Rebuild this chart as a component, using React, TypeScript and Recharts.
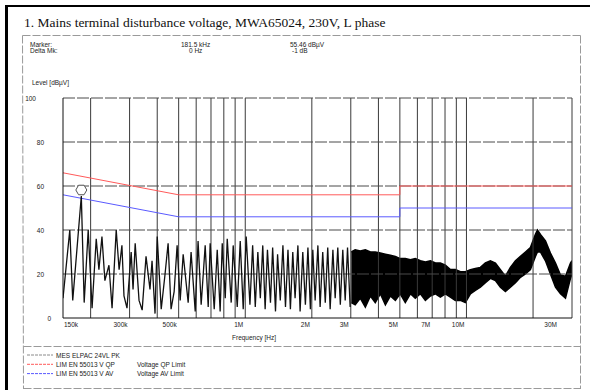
import React from "react";
import {
  ComposedChart,
  Line,
  Area,
  XAxis,
  YAxis,
  ReferenceLine,
  ReferenceDot,
} from "recharts";

// axis ticks / grid
const xTicks = [0.15, 0.3, 0.5, 1, 2, 3, 5, 7, 10, 30];
const xTickLabels = ["150k", "300k", "500k", "1M", "2M", "3M", "5M", "7M", "10M", "30M"];
const yTicks = [0, 20, 40, 60, 80, 100];
const gridFreqs = [0.2, 0.3, 0.4, 0.5, 0.6, 0.7, 0.8, 0.9, 1, 2, 3, 4, 5, 6, 7, 8, 9, 10, 20, 30];
const gridLevels = [20, 40, 60, 80, 100];

// limits [MHz, dBuV]
const qpLimit: [number, number][] = [[0.15, 66], [0.5, 56], [5, 56], [5, 60], [30, 60]];
const avLimit: [number, number][] = [[0.15, 56], [0.5, 46], [5, 46], [5, 50], [30, 50]];

// measured PK trace, 150k..3M  [MHz, dBuV]
const lowTrace: [number, number][] = [
  [0.15, 9], [0.161, 40], [0.166, 8], [0.1815, 55.46], [0.187, 7], [0.195, 40],
  [0.203, 4.5], [0.212, 36], [0.218, 22], [0.225, 37], [0.232, 17], [0.242, 24],
  [0.25, 4.5], [0.261, 40], [0.269, 22], [0.277, 33], [0.283, 10], [0.292, 4.5],
  [0.305, 30], [0.311, 13], [0.318, 34], [0.331, 8], [0.342, 3.6], [0.356, 28],
  [0.371, 13], [0.379, 26], [0.391, 2], [0.4, 37], [0.417, 4], [0.434, 20],
  [0.448, 34], [0.462, 4], [0.477, 12], [0.492, 33], [0.508, 8], [0.524, 29],
  [0.552, 7], [0.569, 30], [0.594, 3], [0.612, 35], [0.632, 6], [0.659, 33],
  [0.68, 5], [0.694, 34], [0.724, 4], [0.747, 31], [0.77, 3], [0.787, 34],
  [0.812, 9], [0.829, 36], [0.864, 7], [0.882, 33], [0.92, 5], [0.949, 35],
  [0.979, 4], [1.01, 37],
];
const midTrace: [number, number][] = [
  [1.05, 6], [1.08, 33], [1.11, 5], [1.14, 30], [1.17, 9], [1.2, 33], [1.23, 4],
  [1.26, 31], [1.3, 7], [1.33, 32], [1.37, 3], [1.4, 29], [1.44, 8], [1.48, 33],
  [1.52, 5], [1.56, 31], [1.6, 4], [1.64, 30], [1.68, 9], [1.73, 33], [1.77, 3],
  [1.82, 30], [1.87, 6], [1.92, 32], [1.97, 4], [2.02, 31], [2.07, 8], [2.13, 33],
  [2.18, 5], [2.24, 30], [2.3, 7], [2.36, 32], [2.42, 4], [2.49, 31], [2.55, 9],
  [2.62, 32], [2.69, 6], [2.76, 31], [2.83, 8], [2.9, 32], [2.98, 5],
];
// dense part 3M..30M as min/max envelope [MHz, lo, hi]
const bandTrace: [number, number, number][] = [
  [3.015, 7, 30], [3.14, 6, 31], [3.31, 9, 30.5], [3.49, 5, 31], [3.68, 10, 30],
  [3.87, 7, 30], [4.08, 11, 29.5], [4.3, 6, 29], [4.53, 10, 28.5], [4.77, 8, 28],
  [5.02, 11, 27], [5.29, 7, 27], [5.58, 11, 26.5], [5.87, 9, 27], [6.19, 11, 26],
  [6.52, 8, 25.5], [6.87, 10, 26], [7.24, 11, 25], [7.62, 9.5, 25], [8.03, 11, 24],
  [8.46, 9.5, 22], [8.91, 8, 22], [9.39, 8, 21], [9.89, 7, 21], [10.42, 11, 22],
  [10.97, 12.5, 22.5], [11.56, 14, 23], [12.18, 16, 25], [12.83, 18, 26],
  [13.52, 17, 25], [14.24, 14, 22], [15.0, 12, 19], [15.8, 14, 23], [16.65, 16, 26],
  [17.54, 18.5, 28], [18.48, 20, 30], [19.46, 22, 32], [20.5, 28, 38],
  [20.94, 30, 40], [21.6, 30, 38], [22.76, 26, 35], [23.97, 20, 29.5],
  [25.26, 14, 25], [26.61, 11, 19.5], [28.03, 9, 19], [29.53, 18, 25], [30, 20, 26],
];

const marker = { freq: 0.1815, level: 55.46 };

const legendRows = [
  { name: "MES ELPAC 24VL PK", note: "", color: "#8a8a8a" },
  { name: "LIM EN 55013 V QP", note: "Voltage QP Limit", color: "#ff5a5a" },
  { name: "LIM EN 55013 V AV", note: "Voltage AV Limit", color: "#5a5aff" },
];

const small: React.CSSProperties = {
  position: "absolute",
  fontFamily: "'Liberation Sans', Arial, sans-serif",
  fontSize: 6.5,
  lineHeight: "7px",
  color: "#222",
  whiteSpace: "nowrap",
};

function XTick(props: any) {
  const { x, y, payload } = props;
  const i = xTicks.indexOf(payload.value);
  let anchor = "end";
  let dx = -2;
  if (payload.value === 0.15) {
    anchor = "start";
    dx = 1;
  }
  if (payload.value === 30) dx = -15;
  return (
    <text x={x + dx} y={y + 1} textAnchor={anchor} fontSize={6.5}
      fontFamily="'Liberation Sans', Arial, sans-serif" fill="#222">
      {xTickLabels[i]}
    </text>
  );
}

function YTick(props: any) {
  const { x, y, payload } = props;
  let dx = -11;
  if (payload.value === 100) dx = -19;
  if (payload.value === 0) dx = -4;
  return (
    <text x={x + dx} y={y + 2.5} textAnchor="end" fontSize={6.5}
      fontFamily="'Liberation Sans', Arial, sans-serif" fill="#222">
      {payload.value}
    </text>
  );
}

function MarkerShape(props: any) {
  const { cx, cy } = props;
  const r = 5.5;
  const c = cy - 6;
  const pts = [0, 1, 2, 3, 4, 5]
    .map((k) => {
      const a = (Math.PI / 3) * k;
      return `${cx + r * Math.cos(a)},${c + r * Math.sin(a)}`;
    })
    .join(" ");
  return <polygon points={pts} fill="#fff" stroke="#555" strokeWidth={1} />;
}

export default function App() {
  const traceData = [...lowTrace, ...midTrace].map(([f, v]) => ({ f, v }));
  const bandData = bandTrace.map(([f, lo, hi]) => ({ f, range: [lo, hi] }));
  const qpData = qpLimit.map(([f, v]) => ({ f, v }));
  const avData = avLimit.map(([f, v]) => ({ f, v }));

  return (
    <div style={{ position: "absolute", left: 0, top: 0, width: 590, height: 390, background: "#fff", overflow: "hidden" }}>
      {/* page frame and dashed boxes */}
      <svg width={590} height={390} style={{ position: "absolute", left: 0, top: 0 }}>
        <line x1={5} y1={6} x2={590} y2={6} stroke="#000" strokeWidth={2} />
        <line x1={6.5} y1={5} x2={6.5} y2={390} stroke="#000" strokeWidth={3} />
        <g stroke="#9a9a9a" strokeWidth={1} strokeDasharray="8 2" fill="none">
          <line x1={22.5} y1={35.5} x2={580.5} y2={35.5} />
          <line x1={22.5} y1={35.5} x2={23.5} y2={389} />
          <line x1={580.5} y1={35.5} x2={580.5} y2={389} />
          <line x1={23.5} y1={346.5} x2={580.5} y2={346.5} />
          <line x1={23.5} y1={388.5} x2={580.5} y2={388.5} />
        </g>
        {legendRows.map((r, i) => (
          <line key={r.name} x1={27} x2={53} y1={355 + i * 9.3} y2={355 + i * 9.3}
            stroke={r.color} strokeWidth={1} strokeDasharray="3 1" />
        ))}
      </svg>

      <div style={{ position: "absolute", left: 24, top: 15, fontFamily: "'Liberation Serif', 'Times New Roman', serif", fontSize: 13.5, color: "#111", whiteSpace: "nowrap" }}>
        1. Mains terminal disturbance voltage, MWA65024, 230V, L phase
      </div>

      <div style={{ ...small, left: 30, top: 40.5 }}>Marker:</div>
      <div style={{ ...small, left: 181, top: 40.5 }}>181.5 kHz</div>
      <div style={{ ...small, left: 290, top: 40.5 }}>55.46 dBµV</div>
      <div style={{ ...small, left: 30, top: 46.5 }}>Delta Mk:</div>
      <div style={{ ...small, left: 189, top: 46.5 }}>0 Hz</div>
      <div style={{ ...small, left: 292, top: 46.5 }}>-1 dB</div>
      <div style={{ ...small, left: 32, top: 79 }}>Level [dBµV]</div>
      <div style={{ ...small, left: 232, top: 333.5 }}>Frequency [Hz]</div>

      {legendRows.map((r, i) => (
        <React.Fragment key={r.name}>
          <div style={{ ...small, left: 56, top: 351.5 + i * 9.3 }}>{r.name}</div>
          {r.note && <div style={{ ...small, left: 137, top: 351.5 + i * 9.3 }}>{r.note}</div>}
        </React.Fragment>
      ))}

      <div style={{ position: "absolute", left: 0, top: 0 }}>
        <ComposedChart width={590} height={390} margin={{ top: 98, right: 18, bottom: 42, left: 3 }}>
          <XAxis
            dataKey="f"
            type="number"
            scale="log"
            domain={[0.15, 30]}
            allowDataOverflow
            ticks={xTicks}
            tick={<XTick />}
            tickLine={false}
            axisLine={{ stroke: "#111" }}
            height={30}
          />
          <YAxis
            type="number"
            domain={[0, 100]}
            ticks={yTicks}
            tick={<YTick />}
            tickLine={false}
            axisLine={{ stroke: "#111" }}
            width={60}
            allowDataOverflow
          />
          {gridFreqs.map((f) => (
            <ReferenceLine key={"v" + f} x={f} stroke="#3a3a3a" strokeWidth={1} />
          ))}
          {gridLevels.map((l) => (
            <ReferenceLine key={"h" + l} y={l} stroke="#4a4a4a" strokeWidth={1} strokeDasharray="12 2" />
          ))}
          <Line data={qpData} dataKey="v" type="linear" stroke="#ff5a5a" strokeWidth={1} dot={false} isAnimationActive={false} />
          <Line data={avData} dataKey="v" type="linear" stroke="#5a5aff" strokeWidth={1} dot={false} isAnimationActive={false} />
          <Area data={bandData} dataKey="range" type="linear" stroke="#000" strokeWidth={1.5} fill="#000" fillOpacity={1} isAnimationActive={false} />
          <Line data={traceData} dataKey="v" type="linear" stroke="#111" strokeWidth={1.3} dot={false} isAnimationActive={false} />
          <ReferenceDot x={marker.freq} y={marker.level} r={5} shape={<MarkerShape />} />
        </ComposedChart>
      </div>
    </div>
  );
}
